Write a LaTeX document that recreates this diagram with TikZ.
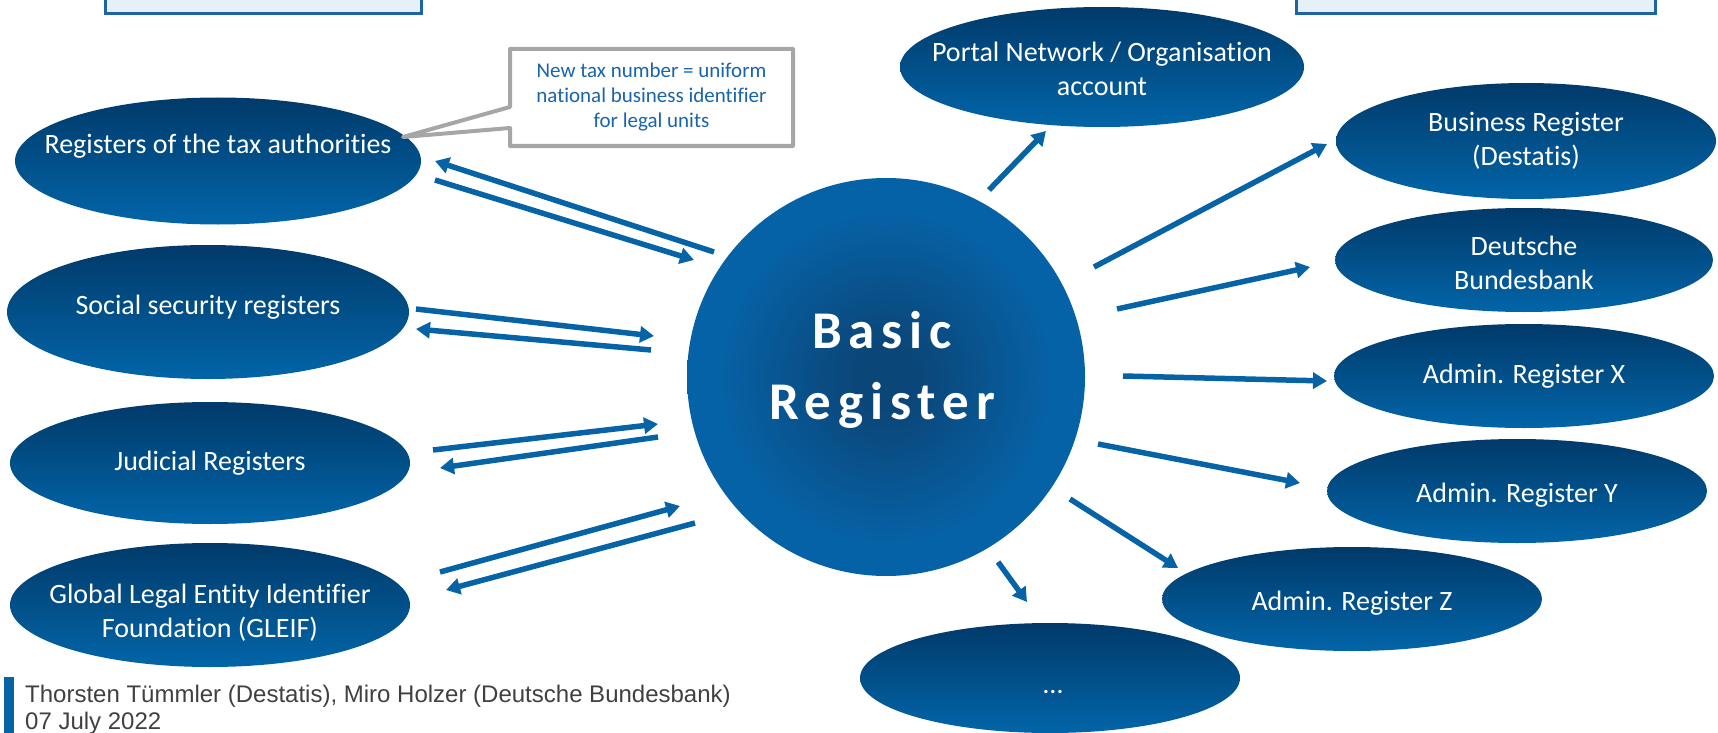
\documentclass[tikz,border=0pt]{standalone}
\usepackage{fontspec}
\setmainfont[Ligatures=NoCommon]{Carlito}
\newfontfamily\footfont{Liberation Sans}
\newfontfamily\bigfont[LetterSpace=13,Ligatures=NoCommon]{Carlito}
\usetikzlibrary{arrows.meta,shapes.geometric}
\definecolor{ellTop}{RGB}{1,58,106}
\definecolor{ellBot}{RGB}{2,101,168}
\definecolor{arrowblue}{RGB}{6,99,166}
\definecolor{cdark}{RGB}{11,70,120}
\definecolor{cedge}{RGB}{6,98,166}
\definecolor{calloutgray}{RGB}{166,166,166}
\definecolor{callouttext}{RGB}{25,100,170}
\definecolor{boxfill}{RGB}{230,240,248}
\definecolor{boxline}{RGB}{30,100,165}
\definecolor{foottext}{RGB}{64,64,64}
\pgfdeclareradialshading{brshade}{\pgfpoint{0bp}{0bp}}{color(0bp)=(cdark); color(4bp)=(cdark); color(21bp)=(cedge); color(25bp)=(cedge); color(50bp)=(cedge)}
\tikzset{
  ell/.style={ellipse, draw=none, inner sep=0pt, top color=ellTop, bottom color=ellBot},
  etext/.style={text=white, font=\fontsize{28}{34}\selectfont, align=center, inner sep=0pt},
  flow/.style={draw=arrowblue, line width=5.5pt, -{Triangle[length=14pt,width=16pt]}},
  topbox/.style={draw=boxline, fill=boxfill, line width=3pt},
  notetext/.style={text=callouttext, font=\fontsize{21}{25}\selectfont, align=center, inner sep=0pt},
  foot/.style={text=foottext, font=\footfont\fontsize{24}{27}\selectfont, inner sep=0pt},
}
\begin{document}
\begin{tikzpicture}[x=1pt,y=-1pt]
\useasboundingbox (0,0) rectangle (1718,733);
\clip (0,0) rectangle (1718,733);

% top partial boxes
\draw[topbox] (105,-20) rectangle (421,14);
\draw[topbox] (1296,-20) rectangle (1655,14);

% left ellipses
\node[ell, minimum width=406pt, minimum height=127pt] (tax) at (218,161) {};
\node[etext] (taxt) at ([yshift=15pt]tax.center) {Registers of the tax authorities};
\node[ell, minimum width=402pt, minimum height=134pt] (soc) at (208,312) {};
\node[etext] (soct) at ([yshift=5pt]soc.center) {Social security registers};
\node[ell, minimum width=400pt, minimum height=122pt] (jud) at (210,463) {};
\node[etext] (judt) at (jud.center) {Judicial Registers};
\node[ell, minimum width=400pt, minimum height=124pt] (gleif) at (210,605) {};
\node[etext] (gleift) at ([yshift=-8pt]gleif.center) {Global Legal Entity Identifier\\Foundation (GLEIF)};

% right ellipses
\node[ell, minimum width=404pt, minimum height=120pt] (portal) at (1102,67) {};
\node[etext] (portalt) at ([yshift=-2pt]portal.center) {Portal Network / Organisation\\account};
\node[ell, minimum width=380pt, minimum height=116pt] (bus) at (1526,141) {};
\node[etext] (bust) at (bus.center) {Business Register\\(Destatis)};
\node[ell, minimum width=378pt, minimum height=104pt] (bbk) at (1524,260) {};
\node[etext] (bbkt) at ([yshift=-3pt]bbk.center) {Deutsche\\Bundesbank};
\node[ell, minimum width=380pt, minimum height=104pt] (rx) at (1524,376) {};
\node[etext] (rxt) at (rx.center) {Admin. Register X};
\node[ell, minimum width=380pt, minimum height=104pt] (ry) at (1517,491) {};
\node[etext] (ryt) at ([yshift=-4pt]ry.center) {Admin. Register Y};
\node[ell, minimum width=380pt, minimum height=104pt] (rz) at (1352,599) {};
\node[etext] (rzt) at ([yshift=-4pt]rz.center) {Admin. Register Z};
\node[ell, minimum width=380pt, minimum height=110pt] (more) at (1050,678) {};
\node[etext] (moret) at ([xshift=3pt,yshift=-14pt]more.center) {…};

% central circle
\node[circle, minimum size=398pt, inner sep=0pt, shading=brshade, draw=none] (br) at (886,377) {};
\node[text=white, font=\bigfont\bfseries\fontsize{53}{71}\selectfont, align=center, inner sep=0pt] (brt) at ([xshift=-4pt,yshift=7pt]br.center) {Basic\\Register};

% callout
\draw[draw=calloutgray, line width=4pt, fill=white, line join=round]
  (510,49) -- (793,49) -- (793,146) -- (510,146) -- (510,128) -- (403,137) -- (510,107) -- cycle;
\node[notetext] (note) at (651.5,97.5) {New tax number = uniform\\national business identifier\\for legal units};

% arrow end points
\coordinate (a1s) at (714,252); \coordinate (a1e) at (435,161);
\coordinate (a2s) at (435,180); \coordinate (a2e) at (694,260);
\coordinate (a3s) at (416,309); \coordinate (a3e) at (654,336);
\coordinate (a4s) at (651,350); \coordinate (a4e) at (416,329);
\coordinate (a5s) at (433,450); \coordinate (a5e) at (658,424);
\coordinate (a6s) at (658,437); \coordinate (a6e) at (440,468);
\coordinate (a7s) at (440,572); \coordinate (a7e) at (680,506);
\coordinate (a8s) at (695,523); \coordinate (a8e) at (446,590);
\coordinate (b1s) at (989,190); \coordinate (b1e) at (1046,131);
\coordinate (b2s) at (1094,267); \coordinate (b2e) at (1327,144);
\coordinate (b3s) at (1117,309); \coordinate (b3e) at (1310,267);
\coordinate (b4s) at (1123,376); \coordinate (b4e) at (1327,381);
\coordinate (b5s) at (1098,444); \coordinate (b5e) at (1300,483);
\coordinate (b6s) at (1070,499); \coordinate (b6e) at (1178,568);
\coordinate (b7s) at (998,562); \coordinate (b7e) at (1027,602);

\draw[flow] (a1s) -- (a1e);
\draw[flow] (a2s) -- (a2e);
\draw[flow] (a3s) -- (a3e);
\draw[flow] (a4s) -- (a4e);
\draw[flow] (a5s) -- (a5e);
\draw[flow] (a6s) -- (a6e);
\draw[flow] (a7s) -- (a7e);
\draw[flow] (a8s) -- (a8e);
\draw[flow] (b1s) -- (b1e);
\draw[flow] (b2s) -- (b2e);
\draw[flow] (b3s) -- (b3e);
\draw[flow] (b4s) -- (b4e);
\draw[flow] (b5s) -- (b5e);
\draw[flow] (b6s) -- (b6e);
\draw[flow] (b7s) -- (b7e);

% footer
\fill[arrowblue] (4,677) rectangle (14,740);
\node[foot, anchor=base west] (auth) at (25,702) {Thorsten Tümmler (Destatis), Miro Holzer (Deutsche Bundesbank)};
\node[foot, anchor=base west] (date) at (25,729) {07 July 2022};
\end{tikzpicture}
\end{document}
